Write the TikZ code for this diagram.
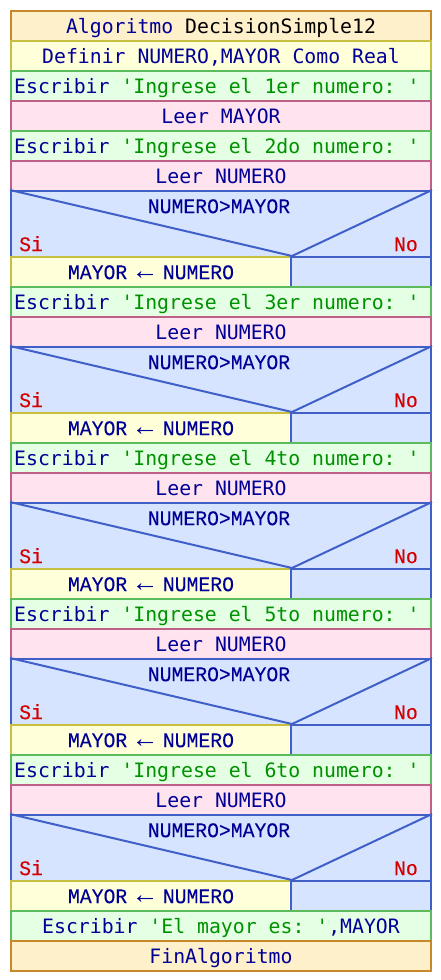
\documentclass[tikz,border=0pt]{standalone}
\usepackage{fontspec}
\setmonofont{DejaVu Sans Mono}
\newfontfamily\condfont{Liberation Mono}[FakeStretch=0.95,FakeBold=0.1]
\newfontfamily\arrfont{Liberation Sans}
\definecolor{kw}{RGB}{0,0,150}
\definecolor{strc}{RGB}{0,145,0}
\definecolor{redc}{RGB}{210,0,0}
\definecolor{algfill}{RGB}{255,240,204}
\definecolor{algdraw}{RGB}{200,136,42}
\definecolor{deffill}{RGB}{255,255,218}
\definecolor{defdraw}{RGB}{200,190,64}
\definecolor{escfill}{RGB}{228,255,228}
\definecolor{escdraw}{RGB}{92,187,92}
\definecolor{leefill}{RGB}{255,228,240}
\definecolor{leedraw}{RGB}{192,96,136}
\definecolor{decfill}{RGB}{214,228,255}
\definecolor{decdraw}{RGB}{64,96,200}
\newcommand{\asgarrow}{\makebox[11.9pt][c]{\arrfont\fontsize{27}{27}\selectfont ←}}
\tikzset{
  blk/.style={draw, line width=2pt, minimum width=420pt, minimum height=30pt,
    anchor=north west, inner xsep=0pt, inner ysep=0pt, text height=14.4pt, text depth=0pt,
    font=\ttfamily\fontsize{19.8}{22}\selectfont, text=kw},
  algbox/.style={blk, fill=algfill, draw=algdraw},
  defbox/.style={blk, fill=deffill, draw=defdraw},
  escbox/.style={blk, fill=escfill, draw=escdraw},
  esctxt/.style={anchor=west, inner sep=0pt, text height=14.4pt, text depth=0pt,
    font=\ttfamily\fontsize{19.8}{22}\selectfont, text=kw},
  leebox/.style={blk, fill=leefill, draw=leedraw},
  decbox/.style={blk, fill=decfill, draw=decdraw, minimum height=66pt},
  asgbox/.style={blk, fill=deffill, draw=defdraw, minimum width=280pt,
    font=\condfont\fontsize{20.8}{22}\selectfont, text height=14.3pt},
  empbox/.style={blk, fill=decfill, draw=decdraw, minimum width=140pt},
  decline/.style={draw=decdraw, line width=2pt},
  cond/.style={inner sep=0pt, text height=14.3pt, text depth=0pt, text=kw,
    font=\condfont\fontsize{20.8}{22}\selectfont},
  sino/.style={inner sep=0pt, text height=14.3pt, text depth=0pt, text=redc,
    font=\condfont\fontsize{20.8}{22}\selectfont}
}
\begin{document}
\begin{tikzpicture}[x=1pt,y=-1pt]
\useasboundingbox[fill=white] (0,0) rectangle (440,980);
\node[algbox] (alg) at (10,10) {Algoritmo {\color{black}DecisionSimple12}};
\node[defbox] (def) at (10,40) {Definir NUMERO,MAYOR Como Real};
\node[escbox] (e1) at (10,70) {};
\node[esctxt] (t1) at ([xshift=4pt]e1.west) {Escribir {\color{strc}'Ingrese el 1er numero: '}};
\node[leebox] (l1) at (10,100) {Leer MAYOR};
\node[escbox] (e2) at (10,130) {};
\node[esctxt] (t2) at ([xshift=4pt]e2.west) {Escribir {\color{strc}'Ingrese el 2do numero: '}};
\node[leebox] (l2) at (10,160) {Leer NUMERO};
% decision 1
\node[decbox] (d1) at (10,190) {};
\node[cond] (c1) at (219,206) {NUMERO>MAYOR};
\node[sino, anchor=west] (s1) at (19,244) {Si};
\node[sino, anchor=east] (n1) at (418,244) {No};
\node[asgbox] (a1) at (10,256) {MAYOR \asgarrow{} NUMERO};
\node[empbox] (m1) at (290,256) {};
\draw[decline] (d1.north west) -- (a1.north east) -- (d1.north east);
\node[escbox] (e3) at (10,286) {};
\node[esctxt] (t3) at ([xshift=4pt]e3.west) {Escribir {\color{strc}'Ingrese el 3er numero: '}};
\node[leebox] (l3) at (10,316) {Leer NUMERO};
% decision 2
\node[decbox] (d2) at (10,346) {};
\node[cond] (c2) at (219,362) {NUMERO>MAYOR};
\node[sino, anchor=west] (s2) at (19,400) {Si};
\node[sino, anchor=east] (n2) at (418,400) {No};
\node[asgbox] (a2) at (10,412) {MAYOR \asgarrow{} NUMERO};
\node[empbox] (m2) at (290,412) {};
\draw[decline] (d2.north west) -- (a2.north east) -- (d2.north east);
\node[escbox] (e4) at (10,442) {};
\node[esctxt] (t4) at ([xshift=4pt]e4.west) {Escribir {\color{strc}'Ingrese el 4to numero: '}};
\node[leebox] (l4) at (10,472) {Leer NUMERO};
% decision 3
\node[decbox] (d3) at (10,502) {};
\node[cond] (c3) at (219,518) {NUMERO>MAYOR};
\node[sino, anchor=west] (s3) at (19,556) {Si};
\node[sino, anchor=east] (n3) at (418,556) {No};
\node[asgbox] (a3) at (10,568) {MAYOR \asgarrow{} NUMERO};
\node[empbox] (m3) at (290,568) {};
\draw[decline] (d3.north west) -- (a3.north east) -- (d3.north east);
\node[escbox] (e5) at (10,598) {};
\node[esctxt] (t5) at ([xshift=4pt]e5.west) {Escribir {\color{strc}'Ingrese el 5to numero: '}};
\node[leebox] (l5) at (10,628) {Leer NUMERO};
% decision 4
\node[decbox] (d4) at (10,658) {};
\node[cond] (c4) at (219,674) {NUMERO>MAYOR};
\node[sino, anchor=west] (s4) at (19,712) {Si};
\node[sino, anchor=east] (n4) at (418,712) {No};
\node[asgbox] (a4) at (10,724) {MAYOR \asgarrow{} NUMERO};
\node[empbox] (m4) at (290,724) {};
\draw[decline] (d4.north west) -- (a4.north east) -- (d4.north east);
\node[escbox] (e6) at (10,754) {};
\node[esctxt] (t6) at ([xshift=4pt]e6.west) {Escribir {\color{strc}'Ingrese el 6to numero: '}};
\node[leebox] (l6) at (10,784) {Leer NUMERO};
% decision 5
\node[decbox] (d5) at (10,814) {};
\node[cond] (c5) at (219,830) {NUMERO>MAYOR};
\node[sino, anchor=west] (s5) at (19,868) {Si};
\node[sino, anchor=east] (n5) at (418,868) {No};
\node[asgbox] (a5) at (10,880) {MAYOR \asgarrow{} NUMERO};
\node[empbox] (m5) at (290,880) {};
\draw[decline] (d5.north west) -- (a5.north east) -- (d5.north east);
\node[escbox] (ef) at (10,910) {Escribir {\color{strc}'El mayor es: '},MAYOR};
\node[algbox] (fin) at (10,940) {FinAlgoritmo};
\end{tikzpicture}
\end{document}
